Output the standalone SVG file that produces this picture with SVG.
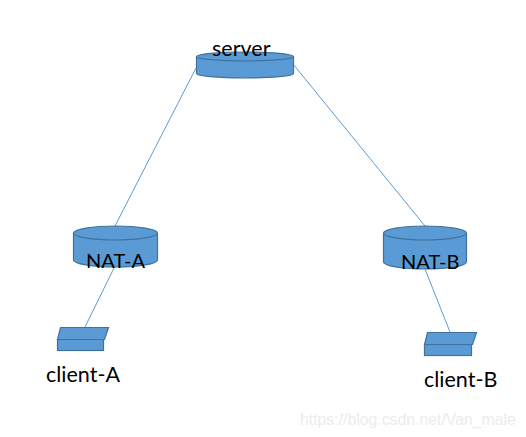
<svg xmlns="http://www.w3.org/2000/svg" width="526" height="437" viewBox="0 0 526 437">
<style>
.s{fill:#5b9bd5;stroke:#41719c;stroke-width:1.2}
.c{fill:none;stroke:#5b9bd5;stroke-width:1}
.t{font-family:Lato,"Liberation Sans",sans-serif;font-size:21.500px;fill:#000}
.n{font-size:20px}
.w{font-family:"Liberation Sans",sans-serif;font-size:15.800px;fill:#ececec}
</style>
<rect width="526" height="437" fill="#fff"/>
<g id="connectors">
<line class="c" x1="196" y1="68" x2="115" y2="226"/>
<line class="c" x1="293" y1="64" x2="425" y2="226"/>
<line class="c" x1="114" y1="268" x2="85" y2="327"/>
<line class="c" x1="425" y1="269" x2="450" y2="332"/>
</g>
<g id="server">
<path class="s" d="M196.500 56.500V73.500A48.500 4.500 0 0 0 293.500 73.500V56.500A48.500 4.500 0 0 0 196.500 56.500Z"/>
<path class="s" d="M196.500 56.500A48.500 4.500 0 0 0 293.500 56.500"/>
<text class="t" x="212" y="56">server</text>
</g>
<g id="nat-a">
<path class="s" d="M73.500 233V260A42 7 0 0 0 157.500 260V233A42 7 0 0 0 73.500 233Z"/>
<path class="s" d="M73.500 233A42 7 0 0 0 157.500 233"/>
<text class="t n" x="86" y="268">NAT-A</text>
</g>
<g id="nat-b">
<path class="s" d="M383.500 233V262A41.500 7 0 0 0 466.500 262V233A41.500 7 0 0 0 383.500 233Z"/>
<path class="s" d="M383.500 233A41.500 7 0 0 0 466.500 233"/>
<text class="t n" x="401" y="269">NAT-B</text>
</g>
<g id="client-a">
<rect class="s" x="57.500" y="339.500" width="46" height="11"/>
<path class="s" d="M60.500 327.500H108.500L104.500 339.500H57.500Z"/>
<text class="t" x="46" y="382">client-A</text>
</g>
<g id="client-b">
<rect class="s" x="424.500" y="344.500" width="47" height="11"/>
<path class="s" d="M427.500 332.500H476.500L472.500 344.500H424.500Z"/>
<text class="t" x="424" y="387">client-B</text>
</g>
<text class="w" x="300" y="425">https://blog.csdn.net/Van_male</text>
</svg>
